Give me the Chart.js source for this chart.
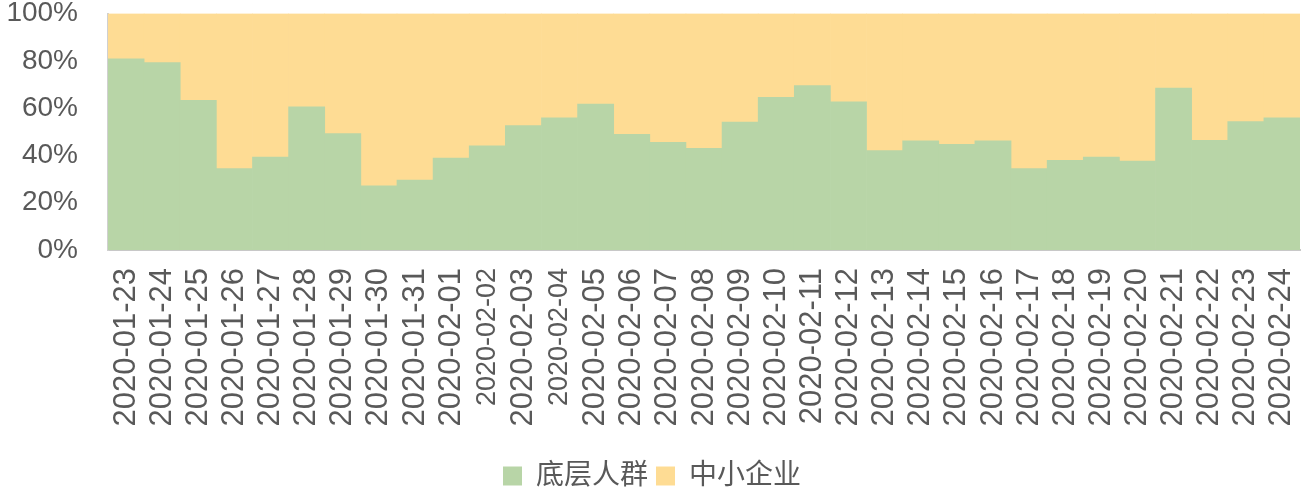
<!DOCTYPE html>
<html>
<head>
<meta charset="utf-8">
<script src="https://cdn.jsdelivr.net/npm/chart.js@4"></script>
<style>
  body { margin: 0; background: #fff; }
  .chart { width: 1312px; height: 500px; position: relative; }
</style>
</head>
<body>
<div class="chart">
  <canvas id="myChart"></canvas>
</div>
<script>
const dates = [
  "2020-01-23", "2020-01-24", "2020-01-25", "2020-01-26", "2020-01-27", "2020-01-28",
  "2020-01-29", "2020-01-30", "2020-01-31", "2020-02-01", "2020-02-02", "2020-02-03",
  "2020-02-04", "2020-02-05", "2020-02-06", "2020-02-07", "2020-02-08", "2020-02-09",
  "2020-02-10", "2020-02-11", "2020-02-12", "2020-02-13", "2020-02-14", "2020-02-15",
  "2020-02-16", "2020-02-17", "2020-02-18", "2020-02-19", "2020-02-20", "2020-02-21",
  "2020-02-22", "2020-02-23", "2020-02-24"
];
// 底层人群 share (%)
const lowIncome = [
  80.8, 79.2, 63.3, 34.4, 39.3, 60.5, 49.2, 27.1, 29.6, 38.9, 44.0, 52.6,
  55.9, 61.7, 48.9, 45.5, 43.0, 54.1, 64.6, 69.5, 62.6, 42.0, 46.2, 44.7,
  46.2, 34.4, 37.9, 39.3, 37.6, 68.5, 46.4, 54.3, 55.9
];
// 中小企业 share (%)
const smallBiz = [
  19.2, 20.8, 36.7, 65.6, 60.7, 39.5, 50.8, 72.9, 70.4, 61.1, 56.0, 47.4,
  44.1, 38.3, 51.1, 54.5, 57.0, 45.9, 35.4, 30.5, 37.4, 58.0, 53.8, 55.3,
  53.8, 65.6, 62.1, 60.7, 62.4, 31.5, 53.6, 45.7, 44.1
];
const yTicks = [0, 20, 40, 60, 80, 100];
// these two labels are set smaller in the original
const smallLabels = ["2020-02-02", "2020-02-04"];

const fontFamily = '"Liberation Sans", Arial, "Noto Sans CJK SC", sans-serif';
const textColor = "#595959";

const ctx = document.getElementById("myChart");
new Chart(ctx, {
  type: "bar",
  data: {
    labels: dates,
    datasets: [
      {
        label: "底层人群",
        data: lowIncome,
        backgroundColor: "#b8d5a7",
        borderWidth: 0,
        categoryPercentage: 1,
        barPercentage: 1,
      },
      {
        label: "中小企业",
        data: smallBiz,
        backgroundColor: "#fedc94",
        borderWidth: 0,
        categoryPercentage: 1,
        barPercentage: 1,
      },
    ],
  },
  options: {
    responsive: true,
    maintainAspectRatio: false,
    animation: false,
    layout: { padding: { left: 4, right: 12, top: 0, bottom: 0 } },
    scales: {
      x: {
        stacked: true,
        grid: { display: false, drawTicks: false },
        border: { display: true, color: "#c8c8c8", width: 2 },
        afterFit: (s) => {
          s.height = 204;
          s.paddingLeft = 0;
          s.paddingRight = 0;
        },
        ticks: {
          autoSkip: false,
          minRotation: 90,
          maxRotation: 90,
          padding: 18,
          color: textColor,
          font: (c) => ({
            family: fontFamily,
            size: (c.tick && smallLabels.includes(dates[c.index])) ? 27 : 31,
          }),
        },
      },
      y: {
        stacked: true,
        min: 0,
        max: 100,
        grid: { display: false, drawTicks: false },
        border: { display: true, color: "#d0d0d0", width: 2 },
        afterBuildTicks: (s) => { s.ticks = yTicks.map((v) => ({ value: v })); },
        afterFit: (s) => {
          s.width = 104;
          s.paddingTop = 13.5;
          s.paddingBottom = 13.5;
        },
        ticks: {
          padding: 30,
          color: textColor,
          font: { family: fontFamily, size: 28 },
          callback: (v) => v + "%",
        },
      },
    },
    plugins: {
      legend: {
        display: true,
        position: "bottom",
        labels: {
          boxWidth: 19,
          boxHeight: 19,
          padding: 8,
          color: textColor,
          font: { family: fontFamily, size: 28 },
        },
      },
      tooltip: { enabled: false },
    },
  },
});
</script>
</body>
</html>
